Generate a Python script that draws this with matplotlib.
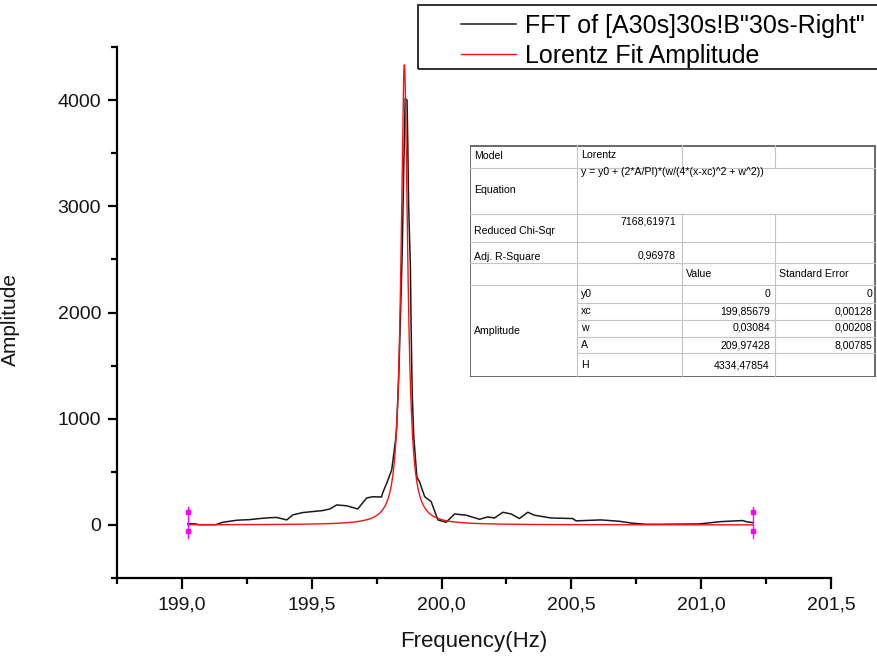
import numpy as np
import matplotlib
matplotlib.use("Agg")
import matplotlib.pyplot as plt
from matplotlib.patches import Rectangle

plt.rcParams['font.family'] = ['Liberation Sans', 'DejaVu Sans']

# --- data ---
fft_freq = [199.023, 199.050, 199.065, 199.130, 199.158, 199.212, 199.262, 199.300,
            199.340, 199.365, 199.404, 199.427, 199.465, 199.542, 199.570, 199.596,
            199.635, 199.677, 199.712, 199.735, 199.769, 199.773, 199.790, 199.808,
            199.823, 199.827, 199.835, 199.841, 199.849, 199.854, 199.860, 199.867,
            199.870, 199.873, 199.880, 199.883, 199.887, 199.893, 199.905, 199.915,
            199.935, 199.960, 199.986, 200.018, 200.050, 200.095, 200.146, 200.178,
            200.204, 200.236, 200.268, 200.300, 200.332, 200.358, 200.422, 200.505,
            200.518, 200.614, 200.685, 200.735, 200.787, 200.850, 200.992, 201.076,
            201.159, 201.178, 201.197]
fft_amp = [10, 10, 2, 2, 25, 44, 50, 60,
           68, 70, 47, 94, 116, 135, 150, 188,
           180, 150, 254, 265, 263, 300, 400, 517,
           800, 920, 1390, 1900, 2615, 3310, 4017, 4000,
           3590, 3030, 2430, 1835, 1240, 830, 450, 407,
           266, 219, 47, 25, 103, 91, 53, 75,
           65, 119, 103, 60, 119, 91, 65, 60,
           38, 47, 34, 16, 6, 6, 9, 31,
           41, 28, 22]

# Lorentz fit parameters (from the fit table)
y0, xc, w, A = 0.0, 199.85679, 0.03084, 209.97428
fit_range = [199.023, 201.2]

xtick_vals = [199.0, 199.5, 200.0, 200.5, 201.0, 201.5]
xtick_labels = ["199,0", "199,5", "200,0", "200,5", "201,0", "201,5"]
ytick_vals = [0, 1000, 2000, 3000, 4000]

table_rows = [
    ("Model", "Lorentz", "", ""),
    ("Equation", "y = y0 + (2*A/PI)*(w/(4*(x-xc)^2 + w^2))", "", ""),
    ("Reduced Chi-Sqr", "7168,61971", "", ""),
    ("Adj. R-Square", "0,96978", "", ""),
    ("", "", "Value", "Standard Error"),
]
param_rows = [
    ("y0", "0", "0"),
    ("xc", "199,85679", "0,00128"),
    ("w", "0,03084", "0,00208"),
    ("A", "209,97428", "8,00785"),
    ("H", "4334,47854", ""),
]

W, H = 878, 660
fig = plt.figure(figsize=(W / 100, H / 100), dpi=100)
ax = fig.add_axes([117 / W, 1 - 578 / H, (831 - 117) / W, (578 - 47) / H])

fit_x = np.linspace(fit_range[0], fit_range[1], 2000)
fit_y = y0 + (2 * A / np.pi) * (w / (4 * (fit_x - xc) ** 2 + w ** 2))

ax.plot(fft_freq, fft_amp, color='#1a1a1a', lw=1.1, label='FFT of [A30s]30s!B"30s-Right"')
ax.plot(fit_x, fit_y, color='#ff1010', lw=1.0, label='Lorentz Fit Amplitude')

# fit range markers
for fx in fit_range:
    ax.plot([fx, fx], [-120, 170], color='#ff00ff', lw=1.0, clip_on=False)
    ax.plot([fx, fx], [120, -60], ls='none', marker='s', ms=3.5, color='#ff00ff', clip_on=False)

ax.set_xlim(198.75, 201.5)
ax.set_ylim(-500, 4500)
ax.set_xticks(xtick_vals)
ax.set_xticklabels(xtick_labels)
ax.set_xticks(np.arange(198.75, 201.5, 0.25), minor=True)
ax.set_yticks(ytick_vals)
ax.set_yticks([-500, 500, 1500, 2500, 3500, 4500], minor=True)

for s in ['top', 'right']:
    ax.spines[s].set_visible(False)
for s in ['left', 'bottom']:
    ax.spines[s].set_linewidth(1.6)
ax.tick_params(axis='x', which='major', length=8, width=1.6, pad=5, labelsize=14, labelcolor='#151515')
ax.tick_params(axis='x', which='minor', length=4.5, width=1.6)
ax.tick_params(axis='y', which='major', length=6.5, width=1.6, pad=5, labelsize=14, labelcolor='#151515')
ax.tick_params(axis='y', which='minor', length=4, width=1.6)

ax.set_xlabel("Frequency(Hz)", fontsize=16, labelpad=13, color='#151515')
fig.text(1 / W, 1 - 320 / H, "Amplitude", rotation=90, ha='left', va='center',
         fontsize=15, color='#151515')

# legend
fig.add_artist(Rectangle((418 / W, 1 - 69 / H), 500 / W, 64 / H, transform=fig.transFigure,
                         fill=False, edgecolor='#202020', lw=1.3))
ax.legend(loc='upper left', bbox_to_anchor=(461 / W, 1 - 14 / H), bbox_transform=fig.transFigure,
          frameon=False, fontsize=18, handlelength=2.2, handletextpad=0.35,
          borderpad=0, borderaxespad=0, labelspacing=0.22)

# fit table, drawn in pixel coordinates of an inset
tab = fig.add_axes([470 / W, 1 - 377 / H, (876 - 470) / W, (377 - 145) / H])
tab.set_xlim(470, 876)
tab.set_ylim(377, 145)
tab.axis('off')
grid = '#c4c4c4'
for yy in [168, 214, 242, 263, 285]:
    tab.plot([470, 876], [yy, yy], color=grid, lw=0.8)
for yy in [303, 320, 337, 353]:
    tab.plot([577, 876], [yy, yy], color=grid, lw=0.8)
tab.plot([577, 577], [145, 377], color=grid, lw=0.8)
for cx in [682, 775]:
    tab.plot([cx, cx], [145, 168], color=grid, lw=0.8)
    tab.plot([cx, cx], [214, 377], color=grid, lw=0.8)
tab.add_patch(Rectangle((470.5, 145.5), 405, 231, fill=False, edgecolor='#505050', lw=1.2))

fs = 7.6
tab.text(474, 156, table_rows[0][0], fontsize=fs, va='center')
tab.text(581, 155, table_rows[0][1], fontsize=fs, va='center')
tab.text(474, 190, table_rows[1][0], fontsize=fs, va='center')
tab.text(581, 172, table_rows[1][1], fontsize=fs, va='center')
tab.text(474, 231, table_rows[2][0], fontsize=fs, va='center')
tab.text(676, 222, table_rows[2][1], fontsize=fs, va='center', ha='right')
tab.text(474, 257, table_rows[3][0], fontsize=fs, va='center')
tab.text(676, 256, table_rows[3][1], fontsize=fs, va='center', ha='right')
tab.text(686, 274, table_rows[4][2], fontsize=fs, va='center')
tab.text(779, 274, table_rows[4][3], fontsize=fs, va='center')
tab.text(474, 331, "Amplitude", fontsize=fs, va='center')
row_y = [294, 311, 328, 345, 365]
for (name, val, err), yy in zip(param_rows, row_y):
    tab.text(581, yy, name, fontsize=fs, va='center')
    tab.text(770, yy, val, fontsize=fs, va='center', ha='right')
    tab.text(872, yy, err, fontsize=fs, va='center', ha='right')

fig.savefig("out.png", dpi=100)
